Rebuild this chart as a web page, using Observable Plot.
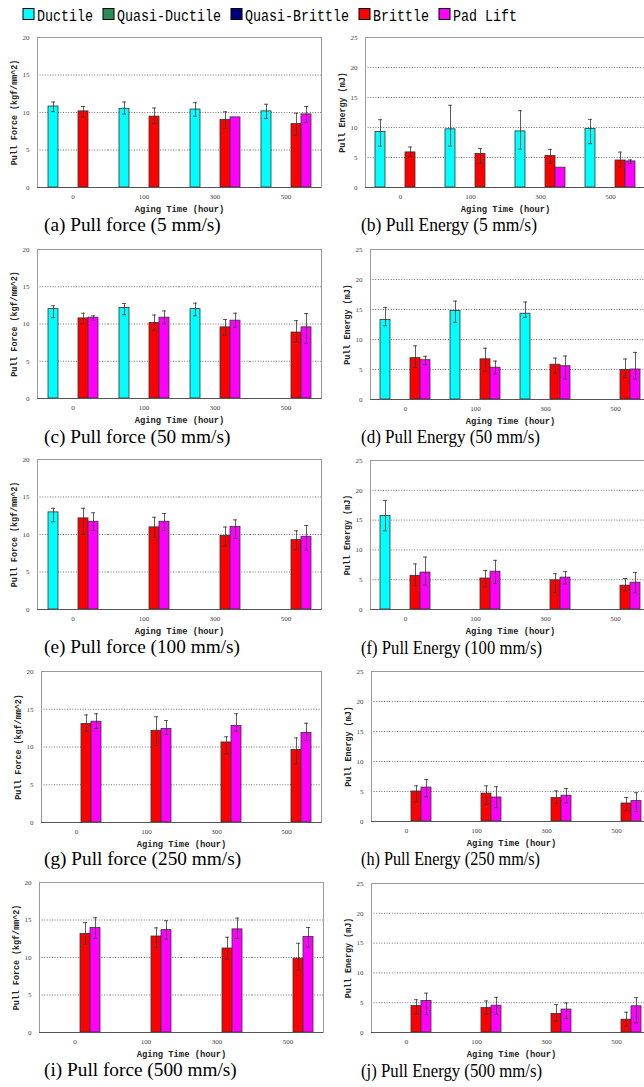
<!DOCTYPE html>
<html>
<head>
<meta charset="utf-8">
<script src="https://cdn.jsdelivr.net/npm/d3@7"></script>
<script src="https://cdn.jsdelivr.net/npm/@observablehq/plot@0.6"></script>
<style>
  html, body { margin: 0; padding: 0; background: #fff; }
  body { width: 644px; height: 1087px; overflow: hidden; position: relative; }
  #page { position: absolute; left: 0; top: 0; width: 644px; height: 1087px; overflow: hidden; }
  .panel { position: absolute; }
  .panel svg { overflow: visible; }
  g[aria-label="y-axis label"] text, g[aria-label="y-axis label"] {
    font-family: "Liberation Mono", monospace; font-weight: bold; font-size: 8.4px; fill: #222;
  }
  g[aria-label="fx-axis label"] text, g[aria-label="fx-axis label"] {
    font-family: "Liberation Mono", monospace; font-weight: bold; font-size: 8.8px; fill: #222;
  }
  #overlay { position: absolute; left: 0; top: 0; }
</style>
</head>
<body>
<div id="page"></div>
<script>
// Aging times (hours) and failure modes
const times = ["0", "100", "300", "500"];
const modes = ["Ductile", "Quasi-Ductile", "Quasi-Brittle", "Brittle", "Pad Lift"];
const modeColors = ["#00ffff", "#2e8b57", "#000080", "#ff0000", "#ff00ff"];
const forceTicks = [0, 5, 10, 15, 20];
const energyTicks = [0, 5, 10, 15, 20, 25];

// Each row: [aging time, failure mode, mean, error-bar low, error-bar high]
const pullForce5 = [
  ["0", "Ductile", 10.8, 10.1, 11.4], ["0", "Brittle", 10.15, 9.4, 10.8],
  ["100", "Ductile", 10.5, 9.8, 11.4], ["100", "Brittle", 9.45, 8.5, 10.6],
  ["300", "Ductile", 10.4, 9.5, 11.3], ["300", "Brittle", 9.0, 7.9, 10.1], ["300", "Pad Lift", 9.35, null, null],
  ["500", "Ductile", 10.15, 9.2, 11.1], ["500", "Brittle", 8.45, 7.0, 9.9], ["500", "Pad Lift", 9.75, 8.7, 10.8]
];
const pullEnergy5 = [
  ["0", "Ductile", 9.25, 6.9, 11.3], ["0", "Brittle", 5.85, 5.1, 6.75],
  ["100", "Ductile", 9.7, 6.9, 13.7], ["100", "Brittle", 5.6, 4.0, 6.5],
  ["300", "Ductile", 9.35, 6.4, 12.8], ["300", "Brittle", 5.25, 4.0, 6.35], ["300", "Pad Lift", 3.3, null, null],
  ["500", "Ductile", 9.75, 7.3, 11.35], ["500", "Brittle", 4.5, 3.4, 5.9], ["500", "Pad Lift", 4.35, 4.0, 4.6]
];
const pullForce50 = [
  ["0", "Ductile", 12.0, 10.85, 12.45], ["0", "Brittle", 10.75, 10.05, 11.45], ["0", "Pad Lift", 10.85, 10.5, 11.1],
  ["100", "Ductile", 12.15, 11.25, 12.75], ["100", "Brittle", 10.15, 9.15, 11.2], ["100", "Pad Lift", 10.85, 10.0, 11.75],
  ["300", "Ductile", 12.0, 11.1, 12.8], ["300", "Brittle", 9.55, 8.5, 10.6], ["300", "Pad Lift", 10.45, 9.55, 11.45],
  ["500", "Brittle", 8.85, 7.55, 10.45], ["500", "Pad Lift", 9.55, 7.4, 11.4]
];
const pullEnergy50 = [
  ["0", "Ductile", 13.25, 12.3, 15.35], ["0", "Brittle", 6.9, 5.35, 8.95], ["0", "Pad Lift", 6.55, 5.8, 7.2],
  ["100", "Ductile", 14.75, 12.85, 16.4], ["100", "Brittle", 6.7, 4.7, 8.55], ["100", "Pad Lift", 5.3, 4.25, 6.4],
  ["300", "Ductile", 14.3, 13.7, 16.25], ["300", "Brittle", 5.8, 4.4, 6.9], ["300", "Pad Lift", 5.55, 3.4, 7.25],
  ["500", "Brittle", 4.9, 3.65, 6.75], ["500", "Pad Lift", 5.0, 3.4, 7.85]
];
const pullForce100 = [
  ["0", "Ductile", 12.95, 11.7, 13.5], ["0", "Brittle", 12.15, 10.0, 13.5], ["0", "Pad Lift", 11.7, 10.55, 12.9],
  ["100", "Brittle", 10.95, 9.6, 12.3], ["100", "Pad Lift", 11.7, 10.55, 12.8],
  ["300", "Brittle", 9.8, 8.45, 11.0], ["300", "Pad Lift", 11.0, 9.5, 11.95],
  ["500", "Brittle", 9.25, 8.0, 10.5], ["500", "Pad Lift", 9.7, 7.9, 11.2]
];
const pullEnergy100 = [
  ["0", "Ductile", 15.7, 13.2, 18.3], ["0", "Brittle", 5.65, 4.0, 7.65], ["0", "Pad Lift", 6.2, 4.1, 8.8],
  ["100", "Brittle", 5.2, 3.8, 6.55], ["100", "Pad Lift", 6.35, 4.35, 8.25],
  ["300", "Brittle", 4.9, 2.85, 6.0], ["300", "Pad Lift", 5.35, 4.25, 6.35],
  ["500", "Brittle", 4.0, 3.1, 5.2], ["500", "Pad Lift", 4.5, 2.8, 6.2]
];
const pullForce250 = [
  ["0", "Brittle", 13.05, 12.1, 14.25], ["0", "Pad Lift", 13.35, 12.45, 14.4],
  ["100", "Brittle", 12.15, 10.2, 14.0], ["100", "Pad Lift", 12.4, 11.65, 13.5],
  ["300", "Brittle", 10.6, 9.1, 11.35], ["300", "Pad Lift", 12.8, 12.1, 14.4],
  ["500", "Brittle", 9.6, 7.75, 11.2], ["500", "Pad Lift", 11.85, 10.85, 13.15]
];
const pullEnergy250 = [
  ["0", "Brittle", 5.0, 3.3, 5.95], ["0", "Pad Lift", 5.65, 4.1, 7.0],
  ["100", "Brittle", 4.65, 2.85, 5.95], ["100", "Pad Lift", 4.0, 2.3, 5.8],
  ["300", "Brittle", 3.9, 3.1, 5.1], ["300", "Pad Lift", 4.3, 3.1, 5.5],
  ["500", "Brittle", 3.0, 1.8, 4.0], ["500", "Pad Lift", 3.4, 1.65, 4.8]
];
const pullForce500 = [
  ["0", "Brittle", 13.15, 11.75, 14.65], ["0", "Pad Lift", 13.95, 12.55, 15.3],
  ["100", "Brittle", 12.8, 11.35, 13.95], ["100", "Pad Lift", 13.65, 12.45, 14.9],
  ["300", "Brittle", 11.2, 9.8, 12.7], ["300", "Pad Lift", 13.75, 12.55, 15.25],
  ["500", "Brittle", 9.85, 8.35, 11.9], ["500", "Pad Lift", 12.75, 11.4, 14.0]
];
const pullEnergy500 = [
  ["0", "Brittle", 4.45, 3.05, 5.5], ["0", "Pad Lift", 5.3, 3.0, 6.6],
  ["100", "Brittle", 4.1, 3.05, 5.3], ["100", "Pad Lift", 4.5, 3.05, 5.9],
  ["300", "Brittle", 3.1, 1.9, 4.7], ["300", "Pad Lift", 3.85, 2.35, 4.95],
  ["500", "Brittle", 2.15, 1.05, 3.4], ["500", "Pad Lift", 4.4, 1.6, 5.85]
];

const forceLabel = "Pull Force (kgf/mm^2)";
const energyLabel = "Pull Energy (mJ)";
const timeLabel = "Aging Time (hour)";

// Panel placement on the page (plot-area frame edges, in px); captionWidth squeezes the right-column captions
const panels = [
  { rows: pullForce5,    kind: "force",  col: 0, left: 37,  top: 37,  bottom: 187, group: 71,   caption: "(a) Pull force (5 mm/s)" },
  { rows: pullEnergy5,   kind: "energy", col: 1, left: 363, top: 37,  bottom: 187, group: 70.8, caption: "(b) Pull Energy (5 mm/s)", captionWidth: 176 },
  { rows: pullForce50,   kind: "force",  col: 0, left: 37,  top: 249, bottom: 398, group: 71,   caption: "(c) Pull force (50 mm/s)" },
  { rows: pullEnergy50,  kind: "energy", col: 1, left: 368, top: 249, bottom: 399, group: 70.8, caption: "(d) Pull Energy (50 mm/s)", captionWidth: 179 },
  { rows: pullForce100,  kind: "force",  col: 0, left: 37,  top: 459, bottom: 609, group: 71,   caption: "(e) Pull force (100 mm/s)" },
  { rows: pullEnergy100, kind: "energy", col: 1, left: 368, top: 460, bottom: 609, group: 70.8, caption: "(f) Pull Energy (100 mm/s)", captionWidth: 181 },
  { rows: pullForce250,  kind: "force",  col: 0, left: 40,  top: 671, bottom: 822, group: 70.5, caption: "(g) Pull force (250 mm/s)" },
  { rows: pullEnergy250, kind: "energy", col: 1, left: 371, top: 671, bottom: 821, group: 70.2, caption: "(h) Pull Energy (250 mm/s)", captionWidth: 179 },
  { rows: pullForce500,  kind: "force",  col: 0, left: 39,  top: 882, bottom: 1032, group: 71,  caption: "(i) Pull force (500 mm/s)" },
  { rows: pullEnergy500, kind: "energy", col: 1, left: 370, top: 883, bottom: 1032, group: 70.6, caption: "(j) Pull Energy (500 mm/s)", captionWidth: 181 }
];

const page = document.getElementById("page");
const toRecords = rows => rows.map(([time, mode, value, lo, hi]) => ({ time, mode, value, lo, hi }));

function drawPanel(p) {
  const svgLeft = p.col ? 322 : 0;
  const padTop = 10, padBottom = 30, width = 330;
  const marginLeft = p.left - svgLeft;
  const marginRight = width - marginLeft - p.group * times.length;
  const data = toRecords(p.rows);
  const withErr = data.filter(d => d.lo != null);
  const ticks = p.kind === "force" ? forceTicks : energyTicks;
  const yMax = ticks[ticks.length - 1];
  const errStyle = { fx: "time", x: "mode", stroke: "#333", strokeWidth: 0.8 };

  const chart = Plot.plot({
    width,
    height: padTop + (p.bottom - p.top) + padBottom,
    marginLeft, marginRight, marginTop: padTop, marginBottom: padBottom,
    style: { background: "transparent", fontFamily: "'Liberation Serif', serif", fontSize: "7px", color: "#444", overflow: "visible", maxWidth: "none" },
    fx: { domain: times, padding: 0, label: timeLabel },
    x: { domain: modes, paddingInner: 0, paddingOuter: 0.78, axis: null },
    y: { domain: [0, yMax], axis: null },
    color: { domain: modes, range: modeColors },
    marks: [
      Plot.gridY(ticks.slice(1, -1), { stroke: "#333", strokeOpacity: 0.85, strokeDasharray: "1,1.6", strokeWidth: 0.8 }),
      Plot.barY(data, { fx: "time", x: "mode", y: "value", fill: "mode", stroke: "#333", strokeWidth: 0.8 }),
      Plot.ruleX(withErr, { ...errStyle, y1: "lo", y2: "hi" }),
      Plot.tickY(withErr, { ...errStyle, y: "lo", insetLeft: 3, insetRight: 3 }),
      Plot.tickY(withErr, { ...errStyle, y: "hi", insetLeft: 3, insetRight: 3 }),
      Plot.frame({ facet: "super", stroke: "#9a9a9a", strokeWidth: 1 }),
      Plot.ruleY([0], { stroke: "#555", strokeWidth: 1 }),
      Plot.axisY(ticks, { tickSize: 0, tickPadding: 8, label: p.kind === "force" ? forceLabel : energyLabel, labelArrow: "none", labelAnchor: "center", labelOffset: 26 }),
      Plot.axisFx({ anchor: "bottom", tickSize: 0, tickPadding: 7, label: timeLabel, labelArrow: "none", labelAnchor: "center", labelOffset: 24 })
    ]
  });

  const holder = document.createElement("div");
  holder.className = "panel";
  holder.style.left = svgLeft + "px";
  holder.style.top = (p.top - padTop) + "px";
  holder.appendChild(chart);
  page.appendChild(holder);
}

panels.forEach(drawPanel);

// Legend (top) and panel captions
const overlay = d3.select(page).append("svg")
  .attr("id", "overlay").attr("width", 644).attr("height", 1087);

const legend = overlay.append("g");
let cursor = 21;
modes.forEach((m, i) => {
  legend.append("rect")
    .attr("x", cursor + 2).attr("y", 8.5).attr("width", 11).attr("height", 11)
    .attr("fill", modeColors[i]).attr("stroke", "#000").attr("stroke-width", 1);
  legend.append("text")
    .attr("x", cursor + 16).attr("y", 20.5)
    .attr("font-family", "'Liberation Mono', monospace").attr("font-size", 16)
    .attr("textLength", m.length * 8).attr("lengthAdjust", "spacingAndGlyphs")
    .attr("fill", "#000").text(m);
  cursor += 16 + m.length * 8 + 8;
});

const captions = overlay.append("g").selectAll("text").data(panels).join("text")
  .attr("x", p => p.col ? 361 : 44)
  .attr("y", p => p.top + 194)
  .attr("font-family", "'Liberation Serif', 'Times New Roman', serif")
  .attr("font-size", 19.3)
  .attr("fill", "#000")
  .text(p => p.caption);
captions.filter(p => p.captionWidth)
  .attr("textLength", p => p.captionWidth)
  .attr("lengthAdjust", "spacingAndGlyphs");
</script>
</body>
</html>
